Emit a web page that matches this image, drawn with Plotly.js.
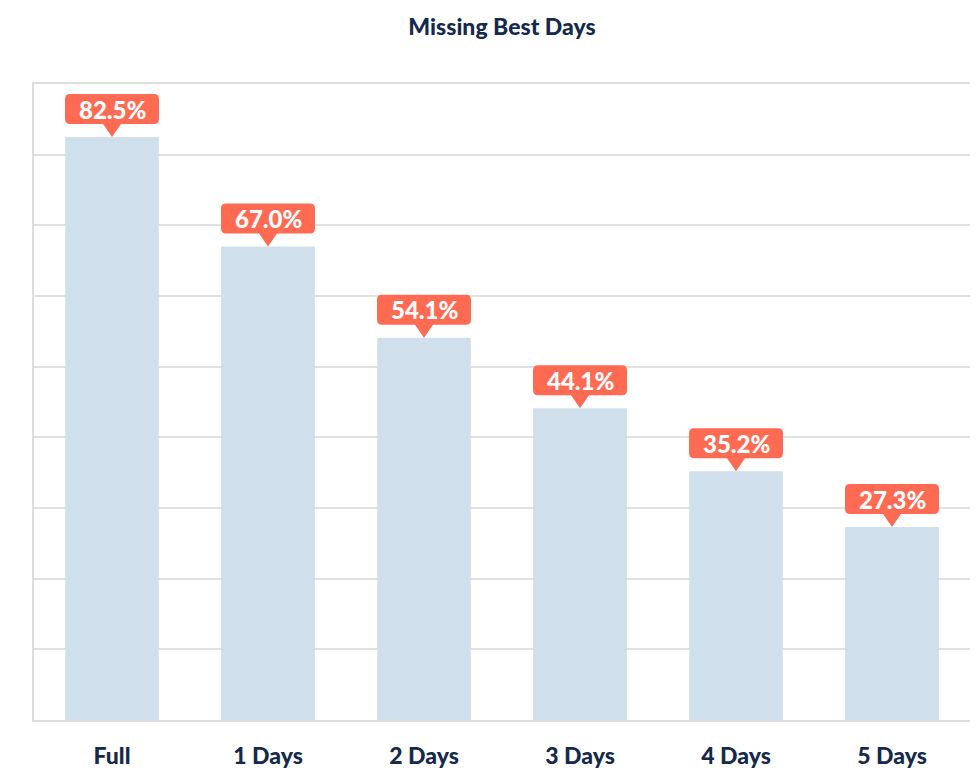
<!DOCTYPE html>
<html>
<head>
<meta charset="utf-8">
<script src="https://cdn.plot.ly/plotly-3.0.1.min.js"></script>
<style>html,body{margin:0;padding:0;background:#fff;}#chart{width:976px;height:771px;}</style>
</head>
<body>
<div id="chart"></div>
<script>
var categories = ["Full", "1 Days", "2 Days", "3 Days", "4 Days", "5 Days"];
var values = [82.5, 67.0, 54.1, 44.1, 35.2, 27.3];
var labels = ["82.5%", "67.0%", "54.1%", "44.1%", "35.2%", "27.3%"];

var navy = "#15294b";
var coral = "#ff6a53";
var font = "Lato, 'Noto Sans', sans-serif";

var trace = {
  type: "bar",
  x: categories,
  y: values,
  width: 0.6,
  marker: {color: "#cfdfeb"},
  hoverinfo: "skip"
};

// rounded label box with pointer, in pixels relative to bar top
var bw = 47, bb = 13, bt = 43, r = 5, pw = 9;
var calloutPath = "M " + (-pw) + "," + bb + " L 0,0 L " + pw + "," + bb +
  " L " + (bw - r) + "," + bb + " Q " + bw + "," + bb + " " + bw + "," + (bb + r) +
  " L " + bw + "," + (bt - r) + " Q " + bw + "," + bt + " " + (bw - r) + "," + bt +
  " L " + (-bw + r) + "," + bt + " Q " + (-bw) + "," + bt + " " + (-bw) + "," + (bt - r) +
  " L " + (-bw) + "," + (bb + r) + " Q " + (-bw) + "," + bb + " " + (-bw + r) + "," + bb + " Z";

var shapes = categories.map(function (c, i) {
  return {
    type: "path",
    xref: "x", yref: "y",
    xsizemode: "pixel", ysizemode: "pixel",
    xanchor: c, yanchor: values[i],
    path: calloutPath,
    fillcolor: coral,
    line: {width: 0},
    layer: "above"
  };
});

var annotations = categories.map(function (c, i) {
  return {
    x: c, y: values[i],
    xref: "x", yref: "y",
    text: labels[i],
    showarrow: false,
    yanchor: "middle",
    yshift: (bb + bt) / 2,
    font: {family: font, size: 24, weight: 900, color: "#ffffff"}
  };
});

var layout = {
  width: 976,
  height: 771,
  margin: {l: 34, r: 6, t: 84, b: 51},
  paper_bgcolor: "#ffffff",
  plot_bgcolor: "#ffffff",
  showlegend: false,
  title: {
    text: "Missing Best Days",
    font: {family: font, size: 23, weight: 900, color: navy},
    x: 0.5, xref: "paper",
    y: 1 - 27 / 771, yref: "container", yanchor: "middle"
  },
  xaxis: {
    type: "category",
    showgrid: false,
    showline: true,
    mirror: true,
    linecolor: "#dddddd",
    linewidth: 2,
    ticks: "",
    ticklabelstandoff: 14,
    tickfont: {family: font, size: 23, weight: 900, color: navy},
    fixedrange: true
  },
  yaxis: {
    range: [0, 90],
    dtick: 10,
    tick0: 0,
    showgrid: true,
    gridcolor: "#e1e1e1",
    gridwidth: 2,
    zeroline: false,
    showline: true,
    linecolor: "#dddddd",
    linewidth: 2,
    showticklabels: false,
    ticks: "",
    fixedrange: true
  },
  shapes: shapes,
  annotations: annotations
};

Plotly.newPlot("chart", [trace], layout, {displayModeBar: false, staticPlot: true});
</script>
</body>
</html>
